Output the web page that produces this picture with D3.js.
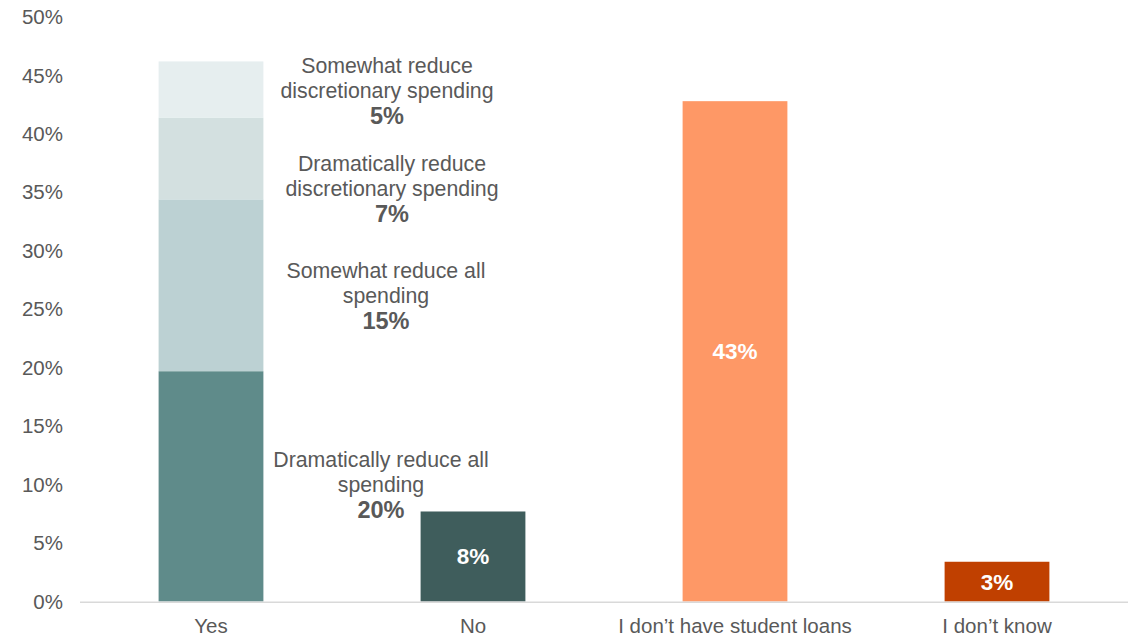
<!DOCTYPE html>
<html>
<head>
<meta charset="utf-8">
<script src="https://cdn.jsdelivr.net/npm/d3@7"></script>
<style>
  html, body { margin: 0; padding: 0; background: #fff; }
  svg { display: block; font-family: "Liberation Sans", Arial, sans-serif; }
</style>
</head>
<body>
<svg id="chart" width="1135" height="637"></svg>
<script>
// Answer categories along the x axis
const categories = ["Yes", "No", "I don\u2019t have student loans", "I don\u2019t know"];

// "Yes" bar broken down by how spending would change (bottom to top)
const yesParts = [
  "Dramatically reduce all spending",
  "Somewhat reduce all spending",
  "Dramatically reduce discretionary spending",
  "Somewhat reduce discretionary spending"
];
const yesValues = [0.197, 0.147, 0.070, 0.048];

// Single-value bars for the remaining categories
const otherCategories = ["No", "I don\u2019t have student loans", "I don\u2019t know"];
const otherValues = [0.077, 0.428, 0.034];

// Axis ticks
const tickValues = [0, 0.05, 0.10, 0.15, 0.20, 0.25, 0.30, 0.35, 0.40, 0.45, 0.50];

// Styling
const yesColors = ["#5f8b8a", "#bcd1d3", "#d3e0e0", "#e6eeef"];
const otherColors = ["#3f5d5c", "#fe9866", "#c04000"];
const textGray = "#595959";

// Label wrapping and offsets for the "Yes" segment annotations
const partLines = [
  ["Dramatically reduce all", "spending"],
  ["Somewhat reduce all", "spending"],
  ["Dramatically reduce", "discretionary spending"],
  ["Somewhat reduce", "discretionary spending"]
];
const partNudge = [-2, 10, 30, 1];
const partDx = [170, 175, 181, 176];

const svg = d3.select("#chart");
const margin = { left: 80, right: 7, top: 17, bottom: 35.5 };
const W = 1135, H = 637;

const x = d3.scaleBand()
  .domain(categories)
  .range([margin.left, W - margin.right])
  .paddingInner(0.6)
  .paddingOuter(0.3);

const y = d3.scaleLinear()
  .domain([0, 0.5])
  .range([H - margin.bottom, margin.top]);

const pct = d3.format(".0%");

// Y axis labels (no axis line, no tick marks)
const yAxis = svg.append("g")
  .attr("transform", `translate(${margin.left - 17},0)`)
  .call(d3.axisLeft(y).tickValues(tickValues).tickFormat(pct).tickSize(0).tickPadding(0));
yAxis.select(".domain").remove();
yAxis.selectAll("text")
  .attr("fill", textGray)
  .style("font-size", "20.5px")
  .style("font-family", "Liberation Sans, Arial, sans-serif");

// Stacked "Yes" bar
const stackData = [Object.fromEntries(yesParts.map((k, i) => [k, yesValues[i]]))];
const series = d3.stack().keys(yesParts)(stackData);

svg.append("g").selectAll("rect")
  .data(series)
  .join("rect")
  .attr("x", x("Yes"))
  .attr("width", x.bandwidth())
  .attr("y", s => y(s[0][1]))
  .attr("height", s => y(s[0][0]) - y(s[0][1]))
  .attr("fill", (s, i) => yesColors[i]);

// Annotations for each segment of the "Yes" bar
const ann = svg.append("g").attr("fill", textGray).attr("text-anchor", "middle");
series.forEach((s, i) => {
  const cx = x("Yes") + x.bandwidth() / 2 + partDx[i];
  const cy = (y(s[0][0]) + y(s[0][1])) / 2 + partNudge[i];
  const t = ann.append("text")
    .attr("x", cx)
    .attr("y", cy - 24.5 + 7.5);
  partLines[i].forEach((line, j) => {
    t.append("tspan")
      .attr("x", cx)
      .attr("dy", j === 0 ? 0 : 24.5)
      .style("font-size", "21.3px")
      .text(line);
  });
  t.append("tspan")
    .attr("x", cx)
    .attr("dy", 26.5)
    .style("font-size", "23.5px")
    .style("font-weight", "bold")
    .text(pct(yesValues[i]));
});

// Remaining single bars
const others = otherCategories.map((c, i) => ({ c, v: otherValues[i], color: otherColors[i] }));
svg.append("g").selectAll("rect")
  .data(others)
  .join("rect")
  .attr("x", d => x(d.c))
  .attr("width", x.bandwidth())
  .attr("y", d => y(d.v))
  .attr("height", d => y(0) - y(d.v))
  .attr("fill", d => d.color);

// White value labels inside the single bars
svg.append("g").selectAll("text")
  .data(others)
  .join("text")
  .attr("x", d => x(d.c) + x.bandwidth() / 2)
  .attr("y", d => (y(d.v) + y(0)) / 2 + 8)
  .attr("text-anchor", "middle")
  .attr("fill", "#ffffff")
  .style("font-size", "22.5px")
  .style("font-weight", "bold")
  .text(d => pct(d.v));

// Baseline
svg.append("line")
  .attr("x1", margin.left)
  .attr("x2", W - margin.right)
  .attr("y1", y(0) + 0.75)
  .attr("y2", y(0) + 0.75)
  .attr("stroke", "#d9d9d9")
  .attr("stroke-width", 1.5);

// Category labels
const xAxis = svg.append("g")
  .attr("transform", `translate(0,${y(0)})`)
  .call(d3.axisBottom(x).tickSize(0).tickPadding(17));
xAxis.select(".domain").remove();
xAxis.selectAll("text")
  .attr("fill", textGray)
  .style("font-size", "20.5px")
  .style("font-family", "Liberation Sans, Arial, sans-serif");
</script>
</body>
</html>
